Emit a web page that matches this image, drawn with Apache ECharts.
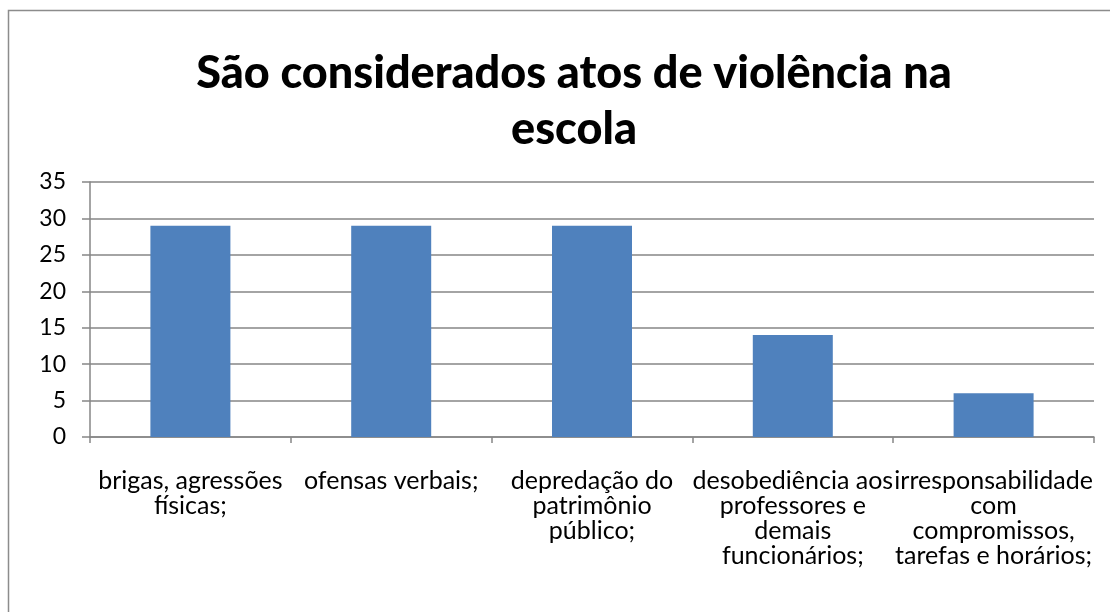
<!DOCTYPE html>
<html>
<head>
<meta charset="utf-8">
<script src="https://cdn.jsdelivr.net/npm/echarts@6/dist/echarts.min.js"></script>
<style>html,body{margin:0;padding:0;background:#fff}#c{width:1110px;height:612px}</style>
</head>
<body>
<div id="c"></div>
<script>
const titleText = 'São considerados atos de violência na\nescola';
const categories = [
  'brigas, agressões\nfísicas;',
  'ofensas verbais;',
  'depredação do\npatrimônio\npúblico;',
  'desobediência aos\nprofessores e\ndemais\nfuncionários;',
  'irresponsabilidade\ncom\ncompromissos,\ntarefas e horários;'
];
const values = [29, 29, 29, 14, 6];
const yMin = 0, yMax = 35, yStep = 5;

const FONT = 'Lato';
const chart = echarts.init(document.getElementById('c'), null, {renderer: 'canvas'});
chart.setOption({
  animation: false,
  graphic: [{
    type: 'rect', silent: true, z: -10,
    shape: {x: 8.5, y: 10.5, width: 1200, height: 800},
    style: {fill: '#fff', stroke: '#8c8c8c', lineWidth: 1.5}
  }],
  title: {
    text: titleText,
    left: 569, top: 40, textAlign: 'center',
    textStyle: {fontFamily: FONT, fontWeight: 900, fontSize: 45, lineHeight: 56, color: '#000'}
  },
  grid: {left: 90, right: 16, top: 182, bottom: 175, containLabel: false},
  xAxis: {
    type: 'category', data: categories,
    axisLine: {lineStyle: {color: '#868686', width: 1.5}},
    axisTick: {show: true, length: 6, alignWithLabel: false, lineStyle: {color: '#868686', width: 1.5}},
    axisLabel: {interval: 0, margin: 31, fontFamily: FONT, fontSize: 25, lineHeight: 25, color: '#000'}
  },
  yAxis: {
    type: 'value', min: yMin, max: yMax, interval: yStep,
    axisLine: {show: true, lineStyle: {color: '#868686', width: 1.5}},
    axisTick: {show: true, length: 8, lineStyle: {color: '#868686', width: 1.5}},
    splitLine: {lineStyle: {color: '#868686', width: 1.5}},
    axisLabel: {margin: 24, fontFamily: FONT, fontSize: 23, color: '#000'}
  },
  series: [{
    type: 'bar', data: values, barWidth: 80,
    itemStyle: {color: '#4f81bd'}
  }]
});
</script>
</body>
</html>
